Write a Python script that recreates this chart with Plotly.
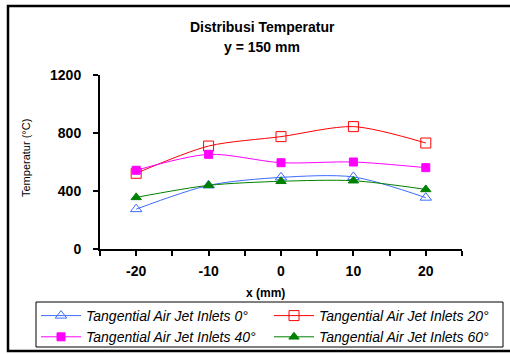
import plotly.graph_objects as go

x_vals = [-20, -10, 0, 10, 20]
t0 = [275, 439, 494, 497, 354]
t20 = [522, 710, 775, 844, 731]
t40 = [543, 653, 595, 600, 561]
t60 = [356, 439, 467, 471, 411]
names = ["Tangential Air Jet Inlets 0°", "Tangential Air Jet Inlets 20°",
         "Tangential Air Jet Inlets 40°", "Tangential Air Jet Inlets 60°"]
xtick_vals = [-25, -20, -15, -10, -5, 0, 5, 10, 15, 20, 25]
xtick_text = ["", "-20", "", "-10", "", "0", "", "10", "", "20", ""]
ytick_vals = [0, 400, 800, 1200]

W, H = 510, 354
L, R, T, B = 100, 462, 75, 249
pw, ph = R - L, B - T

def px(x):
    return (x - L) / pw

def py(y):
    return (B - y) / ph

fig = go.Figure()
styles = [
    (t0, "#3d6cff", "triangle-up-open", 10, "legend"),
    (t20, "#ff0000", "square-open", 10, "legend2"),
    (t40, "#ff00ff", "square", 8, "legend"),
    (t60, "#008000", "triangle-up", 9, "legend2"),
]
for (vals, col, sym, sz, lg), nm in zip(styles, names):
    fig.add_trace(go.Scatter(
        x=x_vals, y=vals, name=nm, mode="lines+markers", legend=lg,
        line=dict(color=col, width=1, shape="spline", smoothing=0.8),
        marker=dict(symbol=sym, size=sz, color=col, line=dict(color=col, width=1)),
    ))

legend_common = dict(
    orientation="v", yanchor="top", xanchor="left",
    bgcolor="rgba(0,0,0,0)", borderwidth=0,
    font=dict(size=14, style="italic", family="Liberation Sans, Arial"),
    itemwidth=40, tracegroupgap=0,
)
fig.update_layout(
    width=W, height=H,
    margin=dict(l=L, r=W - R, t=T, b=H - B, autoexpand=False),
    plot_bgcolor="white", paper_bgcolor="white",
    font=dict(family="Liberation Sans, Arial", color="black"),
    showlegend=True,
    legend=dict(x=px(36), y=py(300), **legend_common),
    legend2=dict(x=px(269), y=py(300), **legend_common),
)
fig.update_xaxes(
    range=[-25, 25], tickvals=xtick_vals, ticktext=xtick_text,
    showline=True, linecolor="black", linewidth=2, mirror=False,
    ticks="outside", ticklen=5, tickwidth=2, tickcolor="black",
    showgrid=False, zeroline=False, ticklabelstandoff=3,
    tickfont=dict(size=14, weight="bold"),
)
fig.update_yaxes(
    range=[0, 1200], tickvals=ytick_vals,
    showline=True, linecolor="black", linewidth=2,
    ticks="outside", ticklen=5, tickwidth=2, tickcolor="black",
    showgrid=False, zeroline=False, ticklabelstandoff=9,
    tickfont=dict(size=14, weight="bold"),
)

fig.add_annotation(text="<b>Distribusi Temperatur</b>", x=px(262), y=py(27),
                   xref="paper", yref="paper", showarrow=False,
                   font=dict(size=14), xanchor="center", yanchor="middle")
fig.add_annotation(text="<b>y = 150 mm</b>", x=px(262), y=py(47),
                   xref="paper", yref="paper", showarrow=False,
                   font=dict(size=14), xanchor="center", yanchor="middle")
fig.add_annotation(text="Temperatur (°C)", x=px(26), y=py(158),
                   xref="paper", yref="paper", showarrow=False, textangle=-90,
                   font=dict(size=11), xanchor="center", yanchor="middle")
fig.add_annotation(text="<b>x (mm)</b>", x=px(265), y=py(293),
                   xref="paper", yref="paper", showarrow=False,
                   font=dict(size=12), xanchor="center", yanchor="middle")
fig.add_shape(type="rect", xref="paper", yref="paper",
              x0=px(36), x1=px(503), y0=py(347), y1=py(302),
              line=dict(color="black", width=1), layer="below")
fig.add_shape(type="rect", xref="paper", yref="paper",
              x0=px(8), x1=px(530), y0=py(351), y1=py(6),
              line=dict(color="black", width=2.5), layer="below")

fig.write_html("out.html")
